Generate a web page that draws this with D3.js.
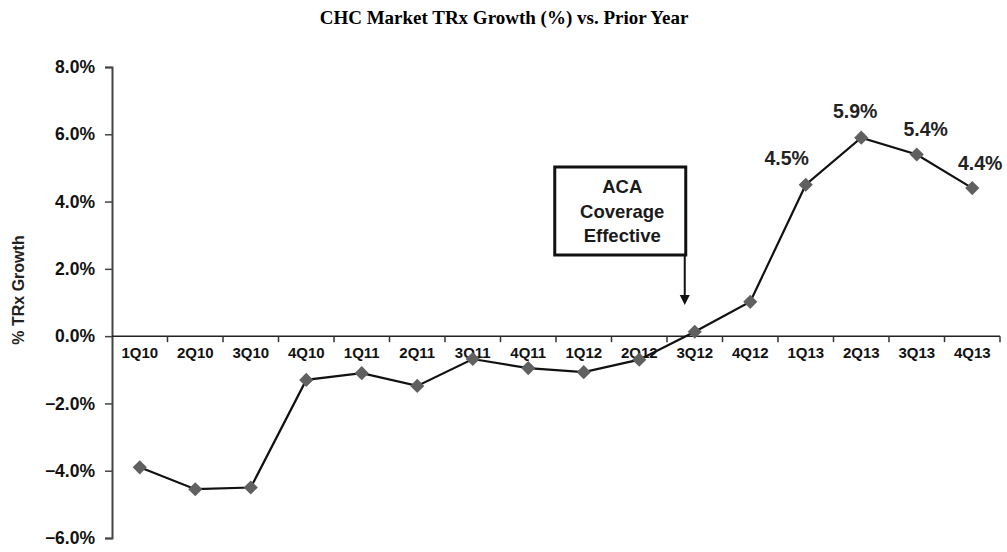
<!DOCTYPE html>
<html>
<head>
<meta charset="utf-8">
<script src="https://cdn.jsdelivr.net/npm/d3@7"></script>
<style>
  body { margin: 0; background: #fff; }
  svg text { font-family: "Liberation Sans", Arial, sans-serif; font-weight: bold; }
</style>
</head>
<body>
<svg id="chart" width="1007" height="552"></svg>
<script>
// quarters and growth values (% vs prior year)
var quarters = ["1Q10", "2Q10", "3Q10", "4Q10", "1Q11", "2Q11", "3Q11", "4Q11",
                "1Q12", "2Q12", "3Q12", "4Q12", "1Q13", "2Q13", "3Q13", "4Q13"];
var growth = [-3.9, -4.55, -4.5, -1.3, -1.1, -1.48, -0.68, -0.95,
              -1.07, -0.7, 0.13, 1.02, 4.5, 5.9, 5.4, 4.4];
// which points get a value label
var labelled = ["1Q13", "2Q13", "3Q13", "4Q13"];
var yTicks = [8, 6, 4, 2, 0, -2, -4, -6];
var noteLines = ["ACA", "Coverage", "Effective"];
var noteAt = "3Q12";

// label nudges (layout only)
var labelDx = {"1Q13": -19, "2Q13": -6, "3Q13": 9, "4Q13": 8};
var labelDy = {"1Q13": -20, "2Q13": -20, "3Q13": -18, "4Q13": -18};

var margin = {top: 67, right: 7, bottom: 14, left: 112},
    width = 1007 - margin.left - margin.right,
    height = 552 - margin.top - margin.bottom;

var svg = d3.select("#chart");

var g = svg.append("g")
  .attr("transform", "translate(" + margin.left + "," + margin.top + ")");

var x = d3.scaleBand().domain(quarters).range([0, 888]);
var y = d3.scaleLinear().domain([-6, 8]).range([471, 0]);

var data = quarters.map(function(q, i) { return {q: q, v: growth[i]}; });

// title
svg.append("text")
  .attr("x", 504)
  .attr("y", 24)
  .attr("text-anchor", "middle")
  .style("font-family", "'Liberation Serif', 'Times New Roman', serif")
  .style("font-size", "19px")
  .text("CHC Market TRx Growth (%) vs. Prior Year");

// y axis
var yAxis = d3.axisLeft(y)
  .tickValues(yTicks)
  .tickSize(7)
  .tickFormat(function(d) { return d3.format(".1f")(d) + "%"; });

var yg = g.append("g").call(yAxis);
yg.select(".domain").attr("stroke", "#444").attr("stroke-width", 2);
yg.selectAll(".tick line").attr("stroke", "#444").attr("stroke-width", 1.5);
yg.selectAll(".tick text")
  .attr("x", -17)
  .attr("fill", "#111")
  .style("font-size", "17.5px");

// y axis title
svg.append("text")
  .attr("transform", "translate(24,290) rotate(-90)")
  .attr("text-anchor", "middle")
  .attr("fill", "#222")
  .style("font-size", "16px")
  .text("% TRx Growth");

// x axis along zero line, ticks between categories
var xg = g.append("g").attr("transform", "translate(0," + y(0) + ")");
xg.append("line")
  .attr("x1", 0).attr("x2", 888)
  .attr("stroke", "#222").attr("stroke-width", 1.5);
xg.selectAll(".sep")
  .data(quarters)
  .enter().append("line")
  .attr("class", "sep")
  .attr("x1", function(d) { return x(d) + x.step(); })
  .attr("x2", function(d) { return x(d) + x.step(); })
  .attr("y1", 0).attr("y2", 6)
  .attr("stroke", "#333").attr("stroke-width", 1.5);
xg.selectAll(".qlab")
  .data(quarters)
  .enter().append("text")
  .attr("class", "qlab")
  .attr("x", function(d) { return x(d) + x.bandwidth() / 2; })
  .attr("y", 22)
  .attr("text-anchor", "middle")
  .attr("fill", "#111")
  .style("font-size", "15px")
  .text(function(d) { return d; });

// line
var line = d3.line()
  .x(function(d) { return x(d.q) + x.bandwidth() / 2; })
  .y(function(d) { return y(d.v); });

g.append("path")
  .datum(data)
  .attr("d", line)
  .attr("fill", "none")
  .attr("stroke", "#111")
  .attr("stroke-width", 2.2);

// diamond markers
g.selectAll(".pt")
  .data(data)
  .enter().append("path")
  .attr("class", "pt")
  .attr("d", d3.symbol().type(d3.symbolSquare).size(100))
  .attr("transform", function(d) {
    return "translate(" + (x(d.q) + x.bandwidth() / 2) + "," + y(d.v) + ") rotate(45)";
  })
  .attr("fill", "#606060");

// value labels
g.selectAll(".vlab")
  .data(data.filter(function(d) { return labelled.indexOf(d.q) >= 0; }))
  .enter().append("text")
  .attr("class", "vlab")
  .attr("x", function(d) { return x(d.q) + x.bandwidth() / 2 + labelDx[d.q]; })
  .attr("y", function(d) { return y(d.v) + labelDy[d.q]; })
  .attr("text-anchor", "middle")
  .attr("fill", "#222")
  .style("font-size", "19.5px")
  .text(function(d) { return d.v.toFixed(1) + "%"; });

// annotation box with arrow
var ax = x(noteAt) + x.bandwidth() / 2 - 10;
var box = {x0: ax - 130, x1: ax + 1, y0: 100, y1: 188};
var note = g.append("g");
note.append("rect")
  .attr("x", box.x0).attr("y", box.y0)
  .attr("width", box.x1 - box.x0).attr("height", box.y1 - box.y0)
  .attr("fill", "#fff").attr("stroke", "#111").attr("stroke-width", 3);
note.selectAll("text")
  .data(noteLines)
  .enter().append("text")
  .attr("x", (box.x0 + box.x1) / 2 + 2)
  .attr("y", function(d, i) { return box.y0 + 26 + i * 24.5; })
  .attr("text-anchor", "middle")
  .attr("fill", "#1a1a1a")
  .style("font-size", "18.5px")
  .text(function(d) { return d; });
note.append("line")
  .attr("x1", ax).attr("x2", ax)
  .attr("y1", box.y1).attr("y2", 230)
  .attr("stroke", "#111").attr("stroke-width", 2);
note.append("path")
  .attr("d", "M" + (ax - 5) + ",228 L" + (ax + 5) + ",228 L" + ax + ",238 Z")
  .attr("fill", "#111");
</script>
</body>
</html>
